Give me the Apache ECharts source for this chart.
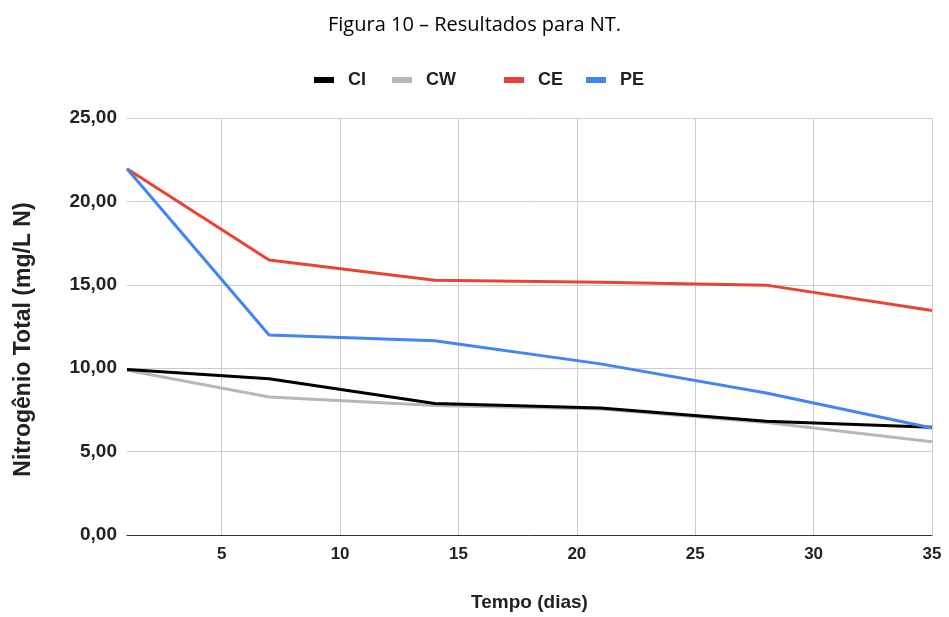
<!DOCTYPE html>
<html>
<head>
<meta charset="utf-8">
<script src="https://cdn.jsdelivr.net/npm/echarts@6/dist/echarts.min.js"></script>
<style>html,body{margin:0;padding:0;background:#fff;}#c{width:949px;height:617px;}</style>
</head>
<body>
<div id="c"></div>
<script>
const days = [1, 7, 14, 21, 28, 35];
const seriesNames = ['CI', 'CW', 'CE', 'PE'];
const CI = [9.92, 9.37, 7.88, 7.62, 6.82, 6.46];
const CW = [9.88, 8.27, 7.76, 7.56, 6.74, 5.59];
const CE = [21.96, 16.49, 15.27, 15.15, 14.98, 13.46];
const PE = [21.96, 11.99, 11.65, 10.26, 8.51, 6.42];
const xTicks = [5, 10, 15, 20, 25, 30, 35];
const colors = ['#000000', '#b7b7b7', '#ea4335', '#4285f4'];

const values = [CI, CW, CE, PE];
const legendLeft = [314, 392, 504, 586];
const chart = echarts.init(document.getElementById('c'), null, {renderer: 'canvas'});
const font = 'Liberation Sans, Arial, sans-serif';
chart.setOption({
  animation: false,
  color: colors,
  title: {
    text: 'Figura 10 – Resultados para NT.',
    left: 'center', top: 10,
    textStyle: {fontFamily: 'Open Sans, sans-serif', fontWeight: 'normal', fontSize: 20, color: '#000'}
  },
  legend: seriesNames.map((n, i) => ({
    top: 71, left: legendLeft[i], padding: 0,
    itemWidth: 20, itemHeight: 6,
    icon: 'rect',
    textStyle: {fontFamily: font, fontWeight: 'bold', fontSize: 18, color: '#222', padding: [0, 0, 0, 9]},
    data: [n]
  })),
  grid: {left: 127, right: 17, top: 118, bottom: 80, containLabel: false},
  xAxis: {
    type: 'value', min: 1, max: 35,
    name: 'Tempo (dias)', nameLocation: 'middle', nameGap: 58,
    nameTextStyle: {fontFamily: font, fontWeight: 'bold', fontSize: 19, color: '#222'},
    axisLine: {show: true, lineStyle: {color: '#333', width: 1}},
    axisTick: {show: false, customValues: xTicks},
    axisLabel: {customValues: xTicks, fontFamily: font, fontWeight: 'bold', fontSize: 17, color: '#222', margin: 11},
    splitLine: {show: true, lineStyle: {color: '#cccccc', width: 1}}
  },
  yAxis: {
    type: 'value', min: 0, max: 25, interval: 5,
    name: 'Nitrogênio Total (mg/L N)', nameLocation: 'middle', nameGap: 92, nameRotate: 90,
    nameTextStyle: {fontFamily: font, fontWeight: 'bold', fontSize: 23, color: '#222', padding: [0, 26, 0, 0]},
    axisLine: {show: false},
    axisTick: {show: false},
    axisLabel: {fontFamily: font, fontWeight: 'bold', fontSize: 19, color: '#222', margin: 10,
      formatter: v => v.toFixed(2).replace('.', ',')},
    splitLine: {show: true, lineStyle: {color: '#cccccc', width: 1}}
  },
  series: seriesNames.map((n, i) => ({
    name: n, type: 'line',
    data: days.map((d, j) => [d, values[i][j]]),
    showSymbol: false, symbol: 'none',
    lineStyle: {width: 3, color: colors[i]},
    z: 2 + (i === 1 ? 0 : i === 0 ? 1 : i)
  }))
});
</script>
</body>
</html>
